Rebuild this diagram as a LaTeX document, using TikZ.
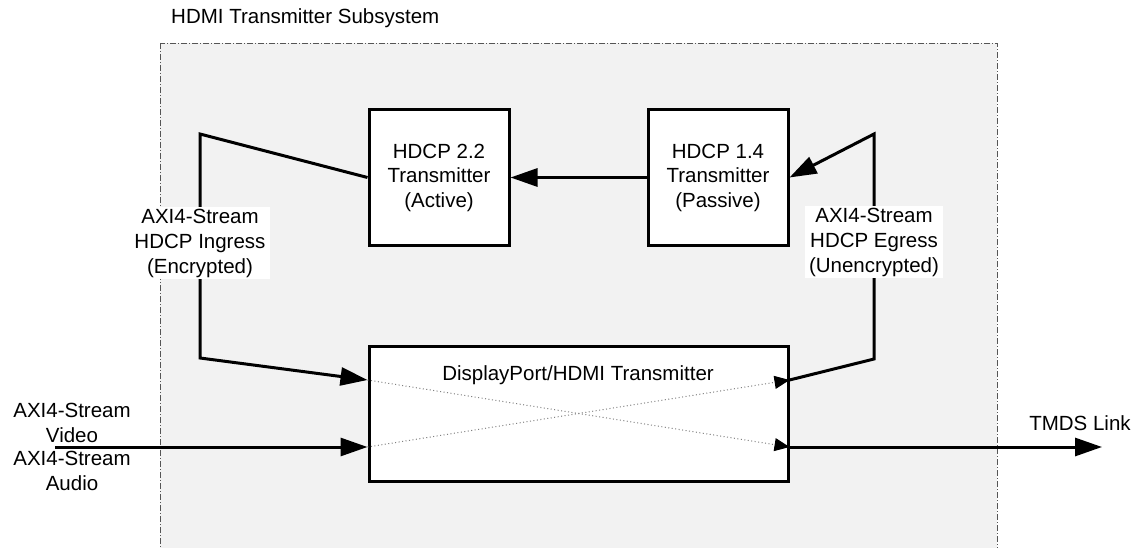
\documentclass[tikz,border=0pt]{standalone}
\usepackage{fontspec}
\setmainfont{Liberation Sans}
\usetikzlibrary{arrows.meta,calc}
\definecolor{subfill}{HTML}{F2F2F2}
\definecolor{subedge}{HTML}{555555}
\tikzset{
  blk/.style={draw=black,line width=3pt,fill=white,align=center,inner sep=0pt},
  conn/.style={line width=3pt,line join=miter},
  bigarrow/.style={conn,-{Triangle[length=27pt,width=18pt]}},
  dotline/.style={draw=gray,line width=1pt,dash pattern=on 1pt off 2.5pt,-{Triangle[length=15pt,width=13pt,fill=black,color=black]}},
  lbl/.style={align=center,inner sep=0pt,font=\fontsize{20.5}{25}\selectfont},
  wlbl/.style={lbl,fill=white,inner xsep=4pt,inner ysep=2pt},
}
\begin{document}
\begin{tikzpicture}[x=1pt,y=-1pt,font=\fontsize{20.5}{24.5}\selectfont]
\useasboundingbox (0,0) rectangle (1139,548);
\clip (0,0) rectangle (1139,548);
\draw[fill=subfill,draw=subedge,line width=0.9pt,dash pattern=on 6pt off 2pt on 1pt off 2pt] (160,43) rectangle (997,600);
\node[lbl,anchor=west] (title) at (171,18) {HDMI Transmitter Subsystem};

\node[blk,minimum width=140pt,minimum height=135pt] (h22) at (439,177.5) {HDCP 2.2\\Transmitter\\(Active)};
\node[blk,minimum width=140pt,minimum height=135pt] (h14) at (718,177.5) {HDCP 1.4\\Transmitter\\(Passive)};
\node[blk,minimum width=419pt,minimum height=135pt] (dp) at (578.5,413.5) {};
\node[lbl] (dplbl) at (578,375) {DisplayPort/HDMI Transmitter};

\coordinate (dpi1) at ([yshift=33.5pt]dp.west);
\coordinate (dpi2) at ([yshift=-33.5pt]dp.west);
\coordinate (dpo1) at ([yshift=33.5pt]dp.east);
\coordinate (dpo2) at ([yshift=-33.5pt]dp.east);
\coordinate (lt) at (200,134);
\coordinate (lb) at (200,358);
\coordinate (rt) at (874,134);
\coordinate (rb) at (874,359);
\coordinate (vin) at (55,447);
\coordinate (tout) at (1102,447);

\draw[dotline] (dpi1) -- (dpo2);
\draw[dotline] (dpi2) -- (dpo1);

\draw[bigarrow] (h14.west) -- (h22.east);
\draw[bigarrow] (h22.west) -- (lt) -- (lb) -- (dpi1);
\draw[bigarrow] (dpo1) -- (rb) -- (rt) -- (h14.east);
\draw[bigarrow] (vin) -- (dpi2);
\draw[bigarrow] (dpo2) -- (tout);

\node[wlbl] (ingress) at (200,243) {AXI4-Stream\\HDCP Ingress\\(Encrypted)};
\node[wlbl] (egress) at (874,242) {AXI4-Stream\\HDCP Egress\\(Unencrypted)};

\node[lbl] (video) at (72,423) {AXI4-Stream\\Video};
\node[lbl] (audio) at (72,471) {AXI4-Stream\\Audio};
\node[lbl] (tmds) at (1080,423) {TMDS Link};
\end{tikzpicture}
\end{document}
